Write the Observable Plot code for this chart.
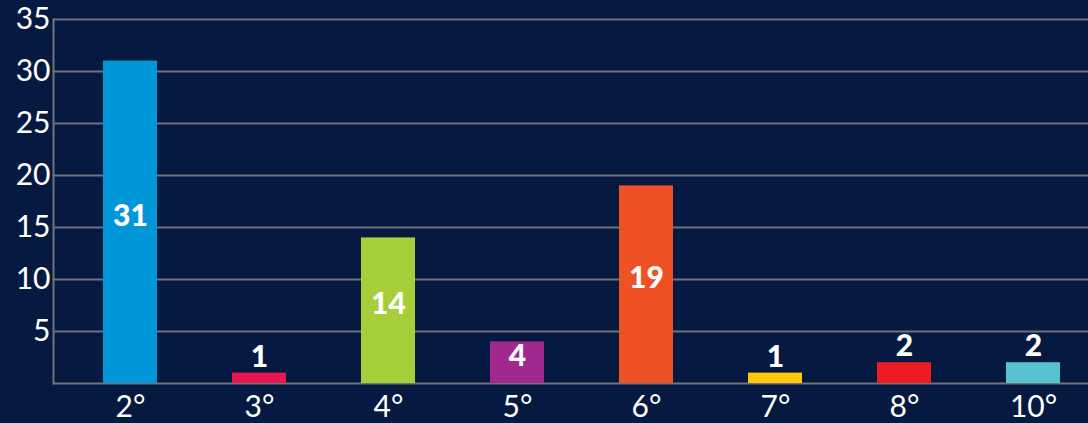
<!DOCTYPE html>
<html>
<head>
<meta charset="utf-8">
<script src="https://cdn.jsdelivr.net/npm/d3@7"></script>
<script src="https://cdn.jsdelivr.net/npm/@observablehq/plot@0.6"></script>
<style>
  html, body { margin: 0; padding: 0; background: #061940; }
  #chart { width: 1088px; height: 423px; overflow: hidden; }
</style>
</head>
<body>
<div id="chart"></div>
<script>
const categories = ["2°", "3°", "4°", "5°", "6°", "7°", "8°", "10°"];
const values = [31, 1, 14, 4, 19, 1, 2, 2];
const colors = ["#0096d7", "#e8174f", "#a6ce39", "#a1288f", "#ee5224", "#fdc80e", "#ed1c24", "#57c3cf"];
const yTicks = [5, 10, 15, 20, 25, 30, 35];

const data = categories.map((c, i) => ({cat: c, value: values[i], color: colors[i]}));
const inside = data.filter(d => d.value >= 4);
const above = data.filter(d => d.value < 4);

const grid = "#70737c";

const chart = Plot.plot({
  width: 1088,
  height: 423,
  marginTop: 19,
  marginBottom: 40,
  marginLeft: 53,
  marginRight: 0,
  style: {background: "#061940", color: "white", fontFamily: "Lato, 'Open Sans', sans-serif"},
  x: {domain: categories, range: [103, 1061], paddingInner: 0.58, paddingOuter: 0, label: null},
  y: {domain: [0, 35], range: [383, 19], label: null},
  marks: [
    Plot.ruleY(yTicks, {stroke: grid, strokeWidth: 2}),
    Plot.ruleY([0], {stroke: grid, strokeWidth: 2}),
    Plot.frame({anchor: "left", stroke: grid, strokeWidth: 2}),
    Plot.barY(data, {x: "cat", y: "value", fill: "color"}),
    Plot.text(inside, {x: "cat", y: d => d.value / 2, text: d => String(d.value), fill: "white", fontSize: 30, fontWeight: 900, dy: -6}),
    Plot.text(above, {x: "cat", y: "value", text: d => String(d.value), fill: "white", fontSize: 30, fontWeight: 900, dy: -16}),
    Plot.axisY({ticks: yTicks, tickSize: 0, tickPadding: 3, fontSize: 30, fill: "white", label: null}),
    Plot.axisX({tickSize: 0, tickPadding: 12, fontSize: 30, fill: "white", label: null})
  ]
});
document.getElementById("chart").append(chart);
</script>
</body>
</html>
